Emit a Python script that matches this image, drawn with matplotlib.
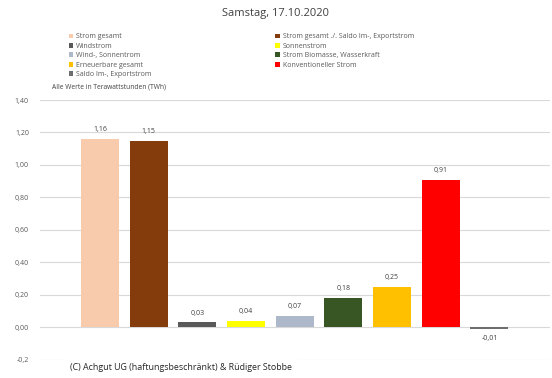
import numpy as np
import matplotlib
matplotlib.use("Agg")
import matplotlib.pyplot as plt
from matplotlib.patches import Patch

plt.rcParams['font.family'] = ['Open Sans', 'DejaVu Sans']

# Data
labels = ['Strom gesamt', 'Strom gesamt ./. Saldo Im-, Exportstrom', 'Windstrom',
          'Sonnenstrom', 'Wind-, Sonnentrom', 'Strom Biomasse, Wasserkraft',
          'Erneuerbare gesamt', 'Konventioneller Strom', 'Saldo Im-, Exportstrom']
values = [1.16, 1.15, 0.03, 0.04, 0.07, 0.18, 0.25, 0.91, -0.01]
colors = ['#F8CBAD', '#843C0C', '#595959', '#FFFF00', '#ADB9CA',
          '#375623', '#FFC000', '#FF0000', '#6E6E6E']
yticks = [-0.2, 0.0, 0.2, 0.4, 0.6, 0.8, 1.0, 1.2, 1.4]
ytick_labels = ['-0,2', '0,00', '0,20', '0,40', '0,60', '0,80', '1,00', '1,20', '1,40']

fig = plt.figure(figsize=(5.52, 3.78), dpi=100)
ax = fig.add_axes([0.0725, 0.0484, 0.9235, 0.6870])

x = np.arange(len(values))
bars = ax.bar(x, values, width=0.78, color=colors, zorder=3)

for xi, v in zip(x, values):
    txt = ('%.2f' % v).replace('.', ',')
    if v >= 0:
        ax.text(xi, v + 0.035, txt, ha='center', va='bottom', fontsize=5, color='#404040')
    else:
        ax.text(xi, v - 0.035, txt, ha='center', va='top', fontsize=5, color='#404040')

ax.set_xlim(-1.23, 9.24)
ax.set_ylim(-0.2, 1.4)
ax.set_yticks(yticks)
ax.set_yticklabels(ytick_labels, fontsize=5, color='#595959')
ax.set_xticks([])
ax.tick_params(axis='y', length=0, pad=8)
ax.grid(axis='y', color='#D9D9D9', linewidth=0.8, zorder=0)
for s in ax.spines.values():
    s.set_visible(False)

fig.text(0.5, 0.965, 'Samstag, 17.10.2020', ha='center', va='center', fontsize=8, color='#404040')
fig.text(0.094, 0.769, 'Alle Werte in Terawattstunden (TWh)', ha='left', va='center',
         fontsize=4.8, color='#404040')

# legend, column-major order to match row-wise layout of the original
order = [0, 2, 4, 6, 8, 1, 3, 5, 7]
handles = [Patch(facecolor=colors[i], label=labels[i]) for i in order]
leg = fig.legend(handles=handles, ncol=2, loc='upper left', bbox_to_anchor=(0.113, 0.928),
                 frameon=False, fontsize=5, handlelength=0.7, handleheight=0.7,
                 handletextpad=0.4, labelspacing=0.35, columnspacing=17.8)
for t in leg.get_texts():
    t.set_color('#595959')

fig.text(0.127, 0.027, '(C) Achgut UG (haftungsbeschr\u00e4nkt) & R\u00fcdiger Stobbe', ha='left', va='center',
         fontsize=6.4, color='#262626',
         bbox=dict(facecolor='white', edgecolor='none', pad=4))

fig.savefig('out.png', dpi=100)
